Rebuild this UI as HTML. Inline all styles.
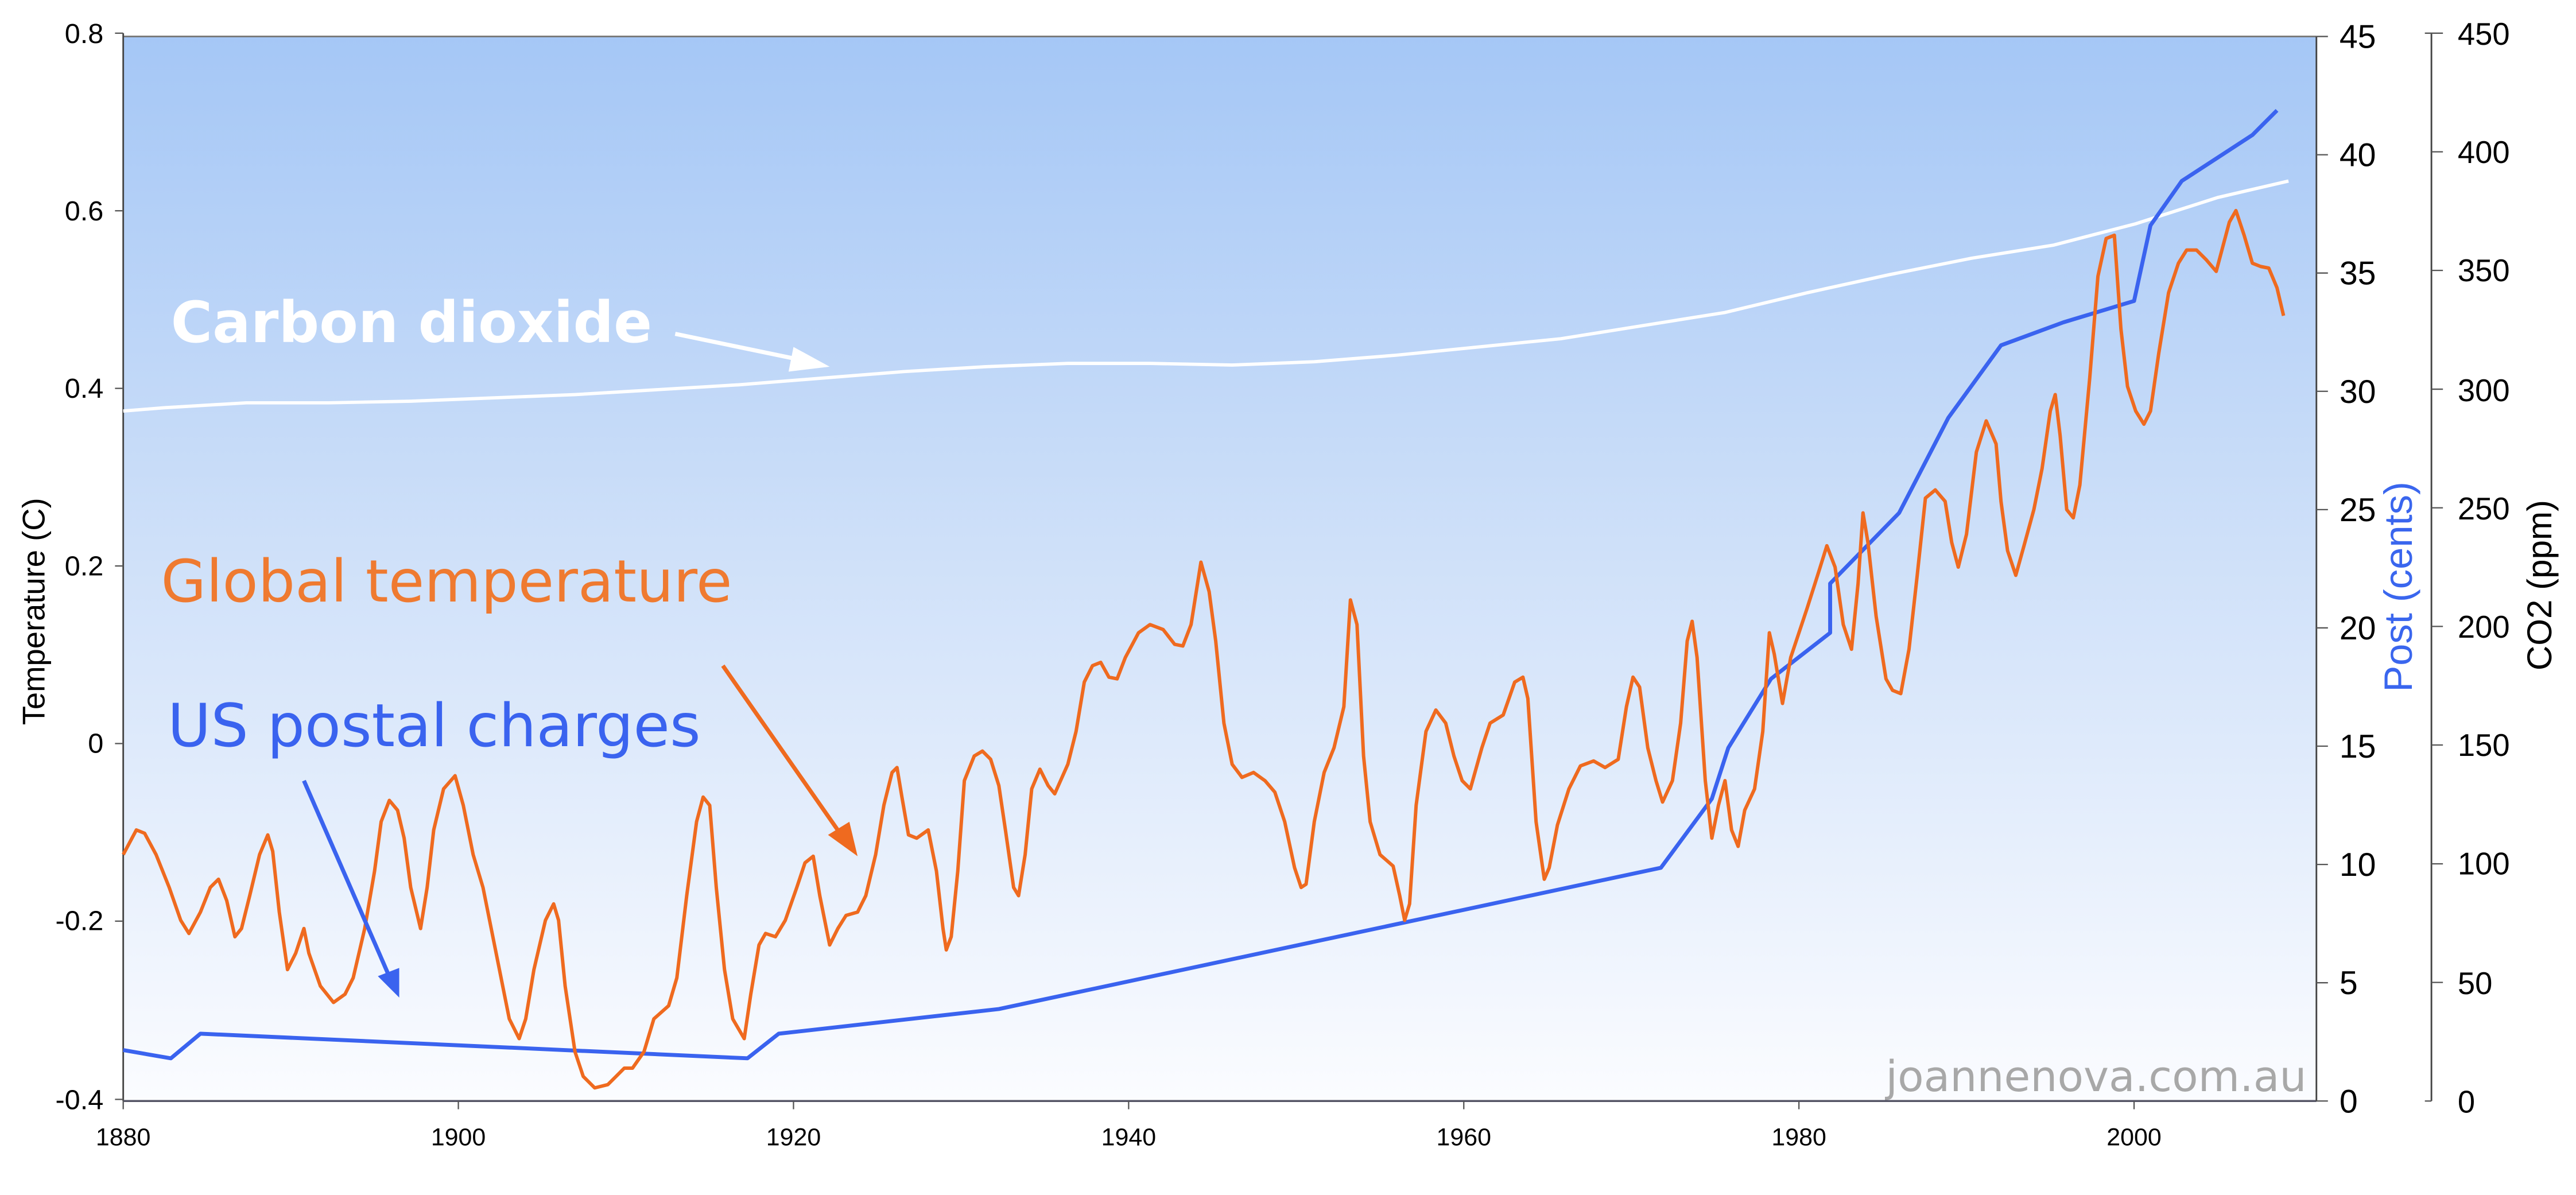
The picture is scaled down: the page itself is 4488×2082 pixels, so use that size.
<!DOCTYPE html>
<html><head><meta charset="utf-8"><style>
html,body{margin:0;padding:0;background:#fff;}
svg{display:block;}
</style></head><body>
<svg width="4488" height="2082" viewBox="0 0 1568 727" xmlns="http://www.w3.org/2000/svg" font-family="'Liberation Sans', Arial, sans-serif">
<defs>
<linearGradient id="bg" x1="0" y1="0" x2="0" y2="1">
<stop offset="0" stop-color="#a5c7f6"/>
<stop offset="0.5" stop-color="#d0e1f9"/>
<stop offset="1" stop-color="#fbfcff"/>
</linearGradient>
</defs>
<rect x="0" y="0" width="1568" height="727" fill="#fff"/>
<rect x="75" y="22" width="1335" height="648" fill="url(#bg)"/>
<line x1="75" y1="22" x2="1410" y2="22" stroke="#777" stroke-width="1"/>
<line x1="75" y1="20" x2="75" y2="670" stroke="#444" stroke-width="1"/>
<g stroke="#555" stroke-width="0.8">
<line x1="70" y1="20" x2="75" y2="20"/><line x1="70" y1="128.1" x2="75" y2="128.1"/><line x1="70" y1="236.2" x2="75" y2="236.2"/><line x1="70" y1="344.3" x2="75" y2="344.3"/><line x1="70" y1="452.4" x2="75" y2="452.4"/><line x1="70" y1="560.5" x2="75" y2="560.5"/><line x1="70" y1="669" x2="75" y2="669"/>
</g>
<g font-size="17" text-anchor="end" fill="#000">
<text x="63" y="26">0.8</text><text x="63" y="134">0.6</text><text x="63" y="242">0.4</text><text x="63" y="350">0.2</text><text x="63" y="458">0</text><text x="63" y="566">-0.2</text><text x="63" y="675">-0.4</text>
</g>
<text transform="translate(27,372) rotate(-90)" font-size="19" text-anchor="middle">Temperature (C)</text>
<line x1="75" y1="670" x2="1410" y2="670" stroke="#556" stroke-width="1.2"/>
<g stroke="#555" stroke-width="0.8">
<line x1="75" y1="670" x2="75" y2="675"/><line x1="279" y1="670" x2="279" y2="675"/><line x1="483" y1="670" x2="483" y2="675"/><line x1="687" y1="670" x2="687" y2="675"/><line x1="891" y1="670" x2="891" y2="675"/><line x1="1095" y1="670" x2="1095" y2="675"/><line x1="1299" y1="670" x2="1299" y2="675"/>
</g>
<g font-size="15" text-anchor="middle">
<text x="75" y="697">1880</text><text x="279" y="697">1900</text><text x="483" y="697">1920</text><text x="687" y="697">1940</text><text x="891" y="697">1960</text><text x="1095" y="697">1980</text><text x="1299" y="697">2000</text>
</g>
<line x1="1410" y1="22" x2="1410" y2="670" stroke="#444" stroke-width="1"/>
<g stroke="#555" stroke-width="0.8">
<line x1="1410" y1="22" x2="1417" y2="22"/><line x1="1410" y1="94" x2="1417" y2="94"/><line x1="1410" y1="166" x2="1417" y2="166"/><line x1="1410" y1="238" x2="1417" y2="238"/><line x1="1410" y1="310" x2="1417" y2="310"/><line x1="1410" y1="382" x2="1417" y2="382"/><line x1="1410" y1="454" x2="1417" y2="454"/><line x1="1410" y1="526" x2="1417" y2="526"/><line x1="1410" y1="598" x2="1417" y2="598"/><line x1="1410" y1="670" x2="1417" y2="670"/>
</g>
<g font-size="20">
<text x="1424" y="29">45</text><text x="1424" y="101">40</text><text x="1424" y="173">35</text><text x="1424" y="245">30</text><text x="1424" y="317">25</text><text x="1424" y="389">20</text><text x="1424" y="461">15</text><text x="1424" y="533">10</text><text x="1424" y="605">5</text><text x="1424" y="677">0</text>
</g>
<text transform="translate(1468,357) rotate(-90)" font-size="24" text-anchor="middle" fill="#3a66ee">Post (cents)</text>
<line x1="1480" y1="20" x2="1480" y2="670" stroke="#444" stroke-width="1"/>
<g stroke="#555" stroke-width="0.8">
<line x1="1476" y1="20" x2="1487" y2="20"/><line x1="1480" y1="92.2" x2="1487" y2="92.2"/><line x1="1480" y1="164.4" x2="1487" y2="164.4"/><line x1="1480" y1="236.7" x2="1487" y2="236.7"/><line x1="1480" y1="308.9" x2="1487" y2="308.9"/><line x1="1480" y1="381.1" x2="1487" y2="381.1"/><line x1="1480" y1="453.3" x2="1487" y2="453.3"/><line x1="1480" y1="525.6" x2="1487" y2="525.6"/><line x1="1480" y1="597.8" x2="1487" y2="597.8"/><line x1="1476" y1="670" x2="1480" y2="670"/>
</g>
<g font-size="19">
<text x="1496" y="27">450</text><text x="1496" y="99">400</text><text x="1496" y="171">350</text><text x="1496" y="244">300</text><text x="1496" y="316">250</text><text x="1496" y="388">200</text><text x="1496" y="460">150</text><text x="1496" y="532">100</text><text x="1496" y="605">50</text><text x="1496" y="677">0</text>
</g>
<text transform="translate(1553,356) rotate(-90)" font-size="21" text-anchor="middle">CO2 (ppm)</text>
<text x="1404" y="664" font-family="'DejaVu Sans', sans-serif" font-size="26" fill="#a8a8a8" text-anchor="end">joannenova.com.au</text>
<polyline fill="none" stroke="#fff" stroke-width="2" points="75,250 100,248 150,245 200,245 250,244 300,242 350,240 400,237 450,234 500,230 550,226 600,223 650,221 700,221 750,222 800,220 850,216 900,211 950,206 1000,198 1050,190 1100,178 1150,167 1200,157 1250,149 1300,136 1350,120 1393,110"/>
<polyline fill="none" stroke="#3a63ef" stroke-width="2.4" stroke-linejoin="round" points="75,639 104,644 122,629 455,644 474,629 608,614 1011,528 1042,486 1052,455 1078,413 1114,385 1114,355 1156,312 1186,254 1218,210 1256,196 1299,183 1309,137 1328,110 1371,82 1386,67"/>
<polyline fill="none" stroke="#ef6a1f" stroke-width="2.1" stroke-linejoin="round" points="75,520 83,505 88,507 95,520 103,540 110,560 115,568 122,555 128,540 133,535 138,548 143,570 147,565 152,545 158,520 163,508 166,518 170,555 175,590 180,580 185,565 188,580 195,600 203,610 210,605 215,595 222,565 228,530 232,500 237,487 242,493 246,510 250,540 256,565 260,540 264,505 270,480 277,472 282,490 288,520 294,540 298,560 303,585 310,620 316,632 320,620 325,590 332,560 337,550 340,560 344,600 350,640 355,655 362,662 370,660 375,655 380,650 385,650 392,640 398,620 407,612 412,595 418,545 424,500 428,485 432,490 436,540 441,590 446,620 453,632 457,605 462,575 466,568 472,570 478,560 485,540 490,525 495,521 499,545 505,575 510,565 515,557 522,555 527,545 533,520 538,490 543,470 546,467 549,485 553,508 558,510 565,505 570,530 574,565 576,578 579,570 583,530 587,475 593,460 598,457 603,462 608,478 612,505 617,540 620,545 624,520 628,480 633,468 638,478 642,483 650,465 655,445 660,415 665,405 670,403 675,412 680,413 685,400 693,385 700,380 708,383 715,392 720,393 725,380 731,342 736,360 740,390 745,440 750,465 756,473 763,470 770,475 776,482 782,500 788,528 792,540 795,538 800,500 806,470 812,455 818,430 822,365 826,380 830,460 834,500 840,520 848,527 852,545 855,560 858,550 862,490 868,445 874,432 880,440 885,460 890,475 895,480 902,455 907,440 915,435 922,415 927,412 930,425 935,500 940,535 943,528 948,502 955,480 962,466 970,463 977,467 985,462 990,430 994,412 998,418 1003,455 1008,475 1012,488 1018,475 1023,440 1027,390 1030,378 1033,400 1038,475 1042,510 1046,490 1050,475 1054,505 1058,515 1062,493 1068,480 1073,445 1077,385 1080,398 1085,428 1090,400 1095,385 1100,370 1107,348 1112,332 1117,345 1122,380 1127,395 1131,355 1134,312 1137,330 1142,375 1148,413 1152,420 1157,422 1162,395 1167,350 1172,303 1178,298 1184,305 1188,330 1192,345 1197,325 1203,275 1209,256 1215,270 1218,305 1222,335 1227,350 1232,332 1238,310 1243,285 1248,250 1251,240 1254,265 1258,310 1262,315 1266,295 1272,230 1277,168 1282,145 1287,143 1291,200 1295,235 1300,250 1305,258 1309,250 1314,215 1320,178 1326,160 1331,152 1337,152 1343,158 1349,165 1353,150 1357,135 1361,128 1366,143 1371,160 1376,162 1381,163 1386,175 1390,192"/>
<text x="104" y="208" font-family="'DejaVu Sans', sans-serif" font-weight="bold" font-size="34.5" fill="#fff">Carbon dioxide</text>
<line x1="411" y1="203" x2="488" y2="219" stroke="#fff" stroke-width="2.5"/>
<polygon points="505,223 483,211 480,226" fill="#fff"/>
<text x="98" y="366" font-family="'DejaVu Sans', sans-serif" font-size="35.5" fill="#ef7a30">Global temperature</text>
<line x1="440" y1="405" x2="512" y2="508" stroke="#ef6a1f" stroke-width="2.5"/>
<polygon points="522,521 504,508 517,500" fill="#ef6a1f"/>
<text x="102" y="454" font-family="'DejaVu Sans', sans-serif" font-size="36" fill="#3a63ef">US postal charges</text>
<line x1="185" y1="475" x2="236" y2="592" stroke="#3a63ef" stroke-width="2.5"/>
<polygon points="243,607 230,594 243,589" fill="#3a63ef"/>
</svg>
</body></html>
